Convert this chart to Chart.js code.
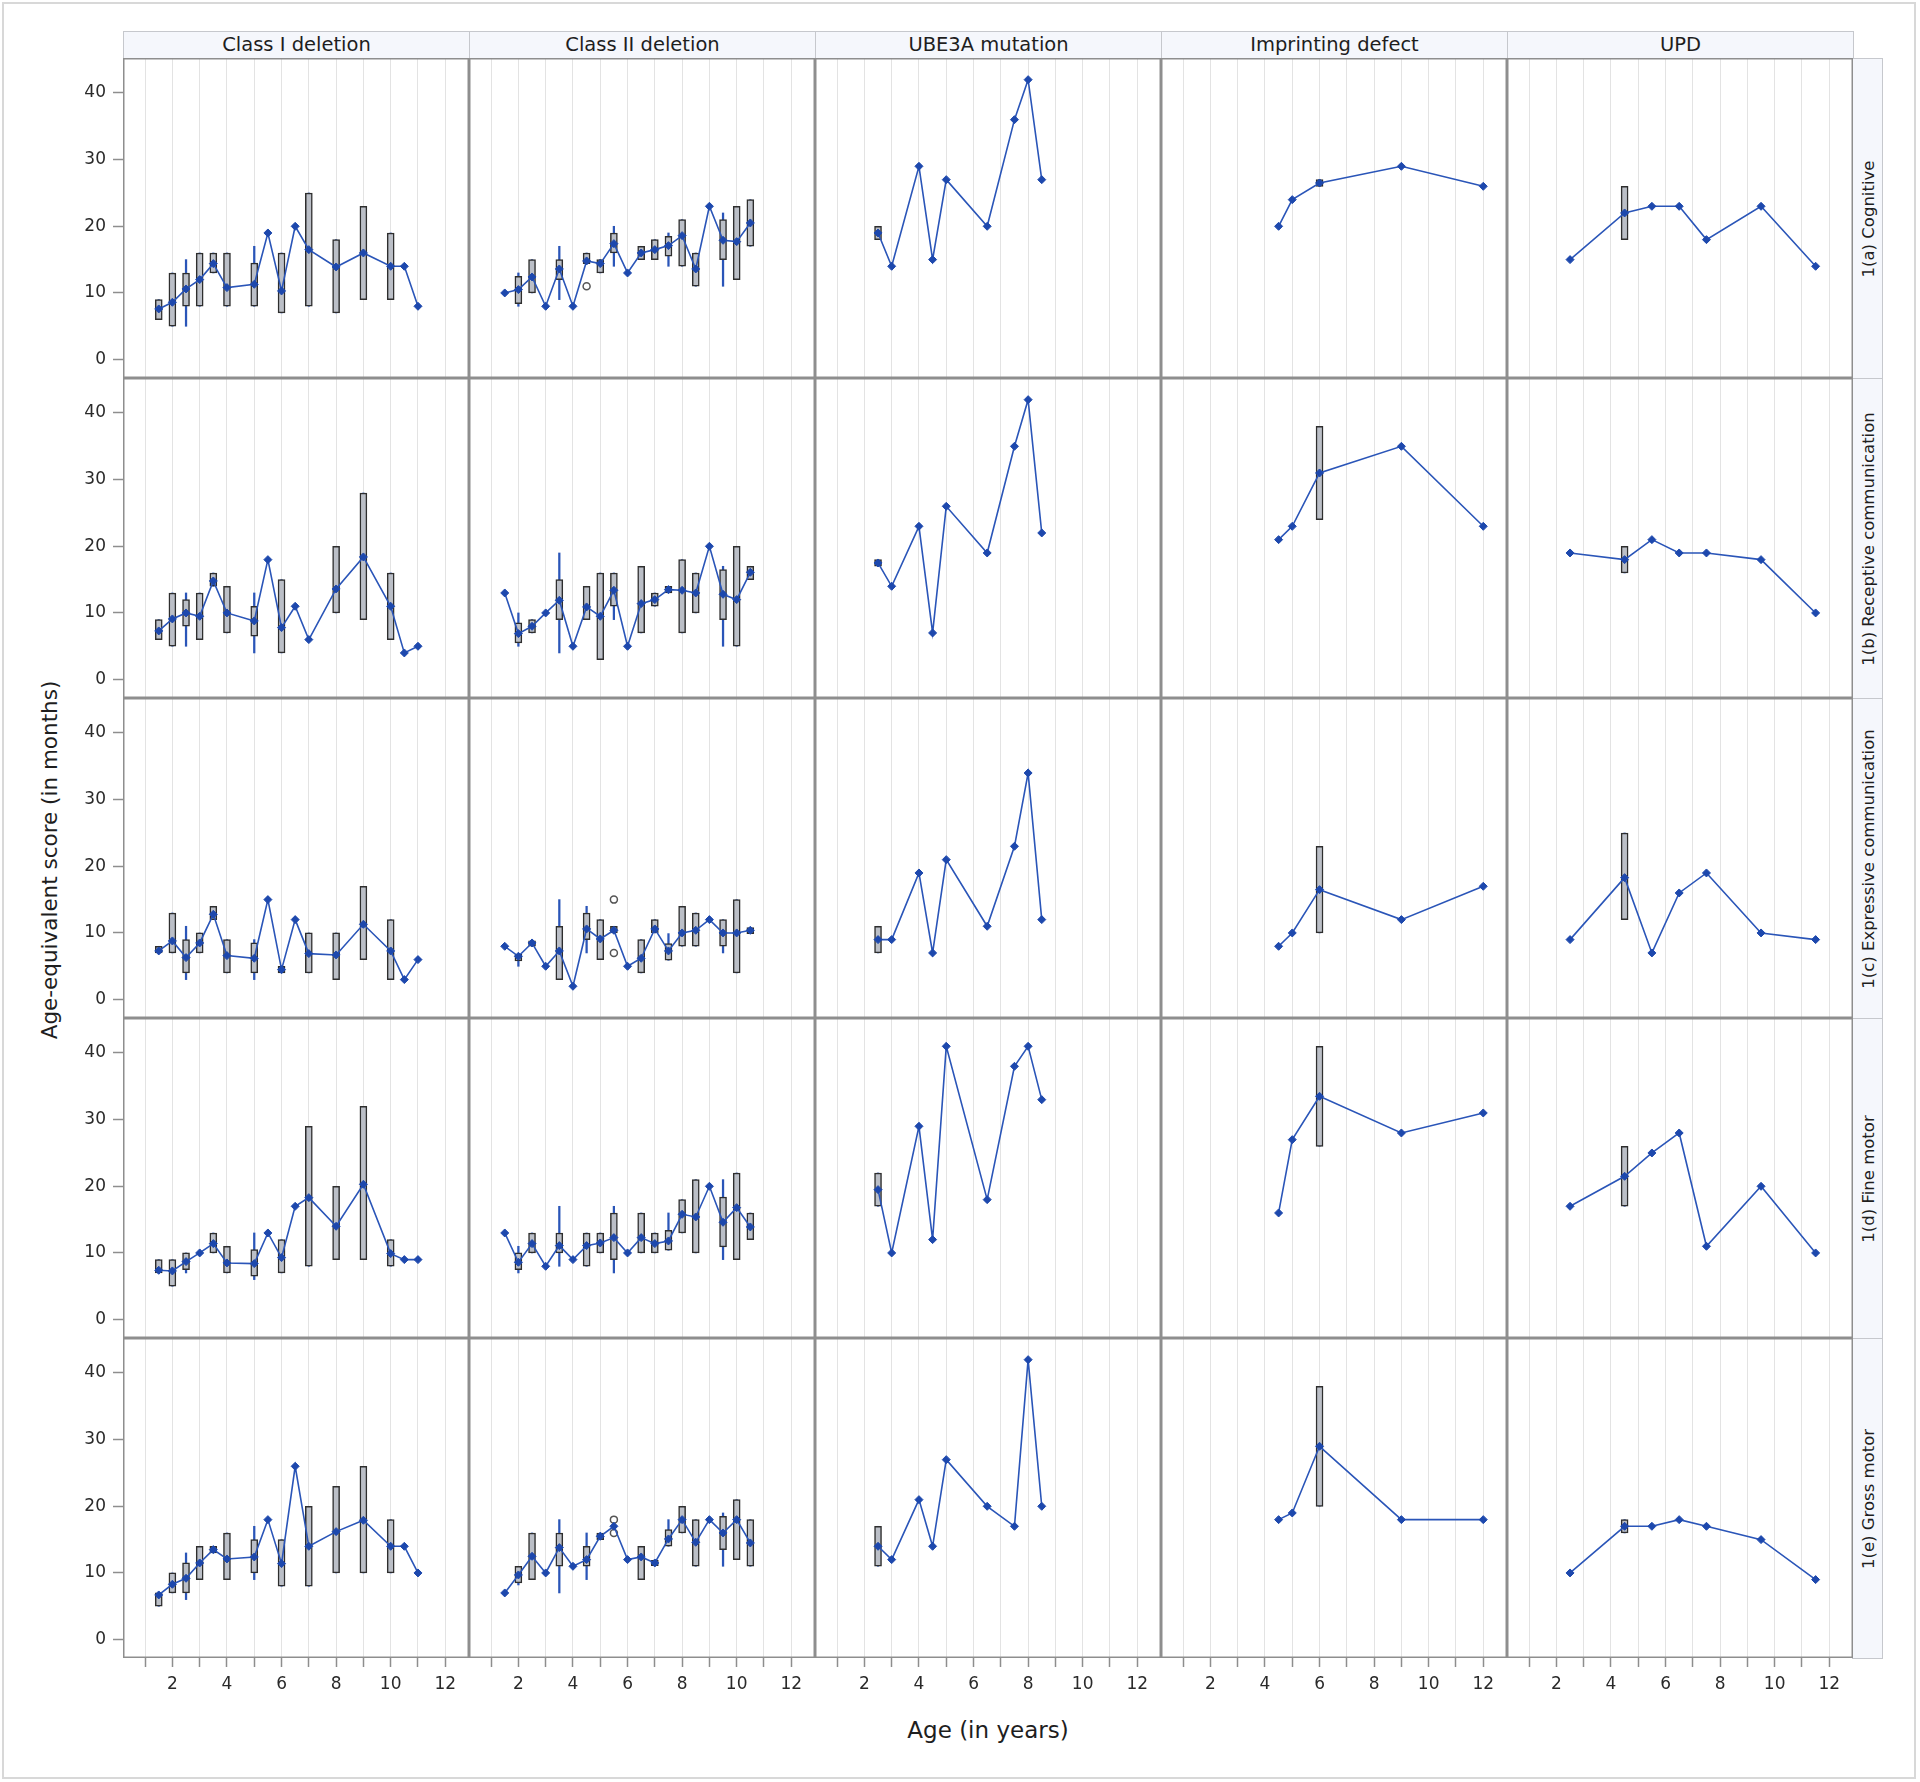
<!DOCTYPE html>
<html lang="en">
<head>
<meta charset="UTF-8">
<title>Age-equivalent scores by genetic subtype</title>
<script src="https://cdn.jsdelivr.net/npm/chart.js@4.4.1/dist/chart.umd.min.js"></script>
<style>
	body { margin: 0; background: #fff; font-family: 'DejaVu Sans', sans-serif; }
	#page { position: relative; width: 1920px; height: 1782px; overflow: hidden; }
	#frame { position: absolute; left: 2px; top: 2px; width: 1914px; height: 1777px; border: 2px solid #d8d8d8; box-sizing: border-box; }
	.panel { position: absolute; }
	.head { position: absolute; top: 31px; height: 28px; width: 347px; background: #f5f7fc; border: 1px solid #c6c8cd; box-sizing: border-box; text-align: center; font-size: 19.5px; line-height: 26px; color: #1e1e1e; }
	.side { position: absolute; left: 1852px; width: 31px; height: 321px; background: #f5f7fc; border: 1px solid #c6c8cd; box-sizing: border-box; }
	.side span { position: absolute; left: 50%; top: 50%; transform: translate(-50%, -50%) rotate(-90deg); white-space: nowrap; font-size: 16.5px; color: #1e1e1e; }
	#ytitle { position: absolute; left: 49px; top: 860px; transform: translate(-50%, -50%) rotate(-90deg); white-space: nowrap; font-size: 21.5px; color: #1e1e1e; }
	#xtitle { position: absolute; left: 988px; top: 1730px; transform: translate(-50%, -50%); white-space: nowrap; font-size: 23px; color: #1e1e1e; }
</style>
</head>
<body>
<div id="page">
	<div id="frame"></div>
	<div id="ytitle">Age-equivalent score (in months)</div>
	<div id="xtitle">Age (in years)</div>
</div>
<script>
// columns / rows of the panel grid
const groups = ['Class I deletion', 'Class II deletion', 'UBE3A mutation', 'Imprinting defect', 'UPD'];
const domains = ['1(a) Cognitive', '1(b) Receptive communication', '1(c) Expressive communication', '1(d) Fine motor', '1(e) Gross motor'];
const xTicks = [1, 2, 3, 4, 5, 6, 7, 8, 9, 10, 11, 12];
const yTicks = [0, 10, 20, 30, 40];

// age groups (years) per genetic subtype
const agesClassI = [1.5, 2, 2.5, 3, 3.5, 4, 5, 5.5, 6, 6.5, 7, 8, 9, 10, 10.5, 11];
const agesClassII = [1.5, 2, 2.5, 3, 3.5, 4, 4.5, 5, 5.5, 6, 6.5, 7, 7.5, 8, 8.5, 9, 9.5, 10, 10.5];
const agesUbe3a = [2.5, 3, 4, 4.5, 5, 6.5, 7.5, 8, 8.5];
const agesImprinting = [4.5, 5, 6, 9, 12];
const agesUpd = [2.5, 4.5, 5.5, 6.5, 7.5, 9.5, 11.5];

// mean scores, one list per subtype (same order as groups)
const cognitiveMean = [
	[7.6, 8.6, 10.6, 12, 14.4, 10.8, 11.3, 19, 10.3, 20, 16.5, 13.9, 16, 14, 14, 8],
	[10, 10.5, 12.4, 8, 13.6, 8, 14.8, 14.4, 17.4, 13, 16, 16.5, 17.1, 18.6, 13.6, 23, 17.9, 17.7, 20.5],
	[19, 14, 29, 15, 27, 20, 36, 42, 27],
	[20, 24, 26.5, 29, 26],
	[15, 22, 23, 23, 18, 23, 14]
];
const receptiveMean = [
	[7.3, 9.1, 10, 9.5, 14.8, 10, 8.8, 18, 7.8, 11, 6, 13.6, 18.4, 11, 4, 5],
	[13, 6.9, 8, 10, 11.9, 5, 10.9, 9.5, 13.4, 5, 11.4, 12, 13.5, 13.4, 13, 20, 12.8, 12, 16.1],
	[17.5, 14, 23, 7, 26, 19, 35, 42, 22],
	[21, 23, 31, 35, 23],
	[19, 18, 21, 19, 19, 18, 10]
];
const expressiveMean = [
	[7.3, 8.8, 6.3, 8.5, 12.8, 6.6, 6.2, 15, 4.5, 12, 6.9, 6.7, 11.3, 7.3, 3, 6],
	[8, 6.5, 8.5, 5, 7.3, 2, 10.6, 9.1, 10.4, 5, 6.2, 10.6, 7.3, 10, 10.4, 12, 10, 10, 10.4],
	[9, 9, 19, 7, 21, 11, 23, 34, 12],
	[8, 10, 16.5, 12, 17],
	[9, 18.3, 7, 16, 19, 10, 9]
];
const fineMotorMean = [
	[7.4, 7.3, 8.7, 10, 11.4, 8.5, 8.4, 13, 9.3, 17, 18.3, 14, 20.3, 9.9, 9, 9],
	[13, 8.6, 11.4, 8, 11.1, 9, 11.1, 11.5, 12.3, 10, 12.3, 11.4, 11.8, 15.8, 15.4, 20, 14.6, 16.8, 13.9],
	[19.5, 10, 29, 12, 41, 18, 38, 41, 33],
	[16, 27, 33.5, 28, 31],
	[17, 21.5, 25, 28, 11, 20, 10]
];
const grossMotorMean = [
	[6.7, 8.3, 9.2, 11.5, 13.5, 12.1, 12.4, 18, 11.4, 26, 14, 16.2, 17.9, 14, 14, 10],
	[7, 9.7, 12.5, 10, 13.8, 11, 12, 15.5, 17, 12, 12.4, 11.5, 15.1, 18, 14.6, 18, 16, 18, 14.5],
	[14, 12, 21, 14, 27, 20, 17, 42, 20],
	[18, 19, 29, 18, 18],
	[10, 17, 17, 18, 17, 15, 9]
];

// boxes: [age, q1, q3, whiskerLow, whiskerHigh]
const cognitiveBox = [
	[[1.5, 6, 9], [2, 5, 13], [2.5, 8, 13, 5, 15], [3, 8, 16], [3.5, 13, 16], [4, 8, 16], [5, 8, 14.5, 8, 17], [6, 7, 16], [7, 8, 25], [8, 7, 18], [9, 9, 23], [10, 9, 19]],
	[[2, 8.4, 12.5, 8, 13], [2.5, 10, 15], [3.5, 12, 15, 9, 17], [4.5, 14.4, 16], [5, 13, 15], [5.5, 16, 19, 14, 20], [6.5, 15, 17], [7, 15, 18], [7.5, 15.5, 18.5, 14, 19], [8, 14, 21], [8.5, 11, 16], [9.5, 15, 21, 11, 22], [10, 12, 23], [10.5, 17, 24]],
	[[2.5, 18, 20]],
	[[6, 26, 27]],
	[[4.5, 18, 26]]
];
const receptiveBox = [
	[[1.5, 6, 9], [2, 5, 13], [2.5, 8, 12, 5, 13], [3, 6, 13], [3.5, 14, 16], [4, 7, 14], [5, 6.5, 11, 4, 13], [6, 4, 15], [8, 10, 20], [9, 9, 28], [10, 6, 16]],
	[[2, 5.5, 8.5, 5, 10], [2.5, 7, 9], [3.5, 9, 15, 4, 19], [4.5, 9, 14], [5, 3, 16], [5.5, 11, 16, 9, 16], [6.5, 7, 17], [7, 11, 13], [7.5, 13, 14], [8, 7, 18], [8.5, 10, 16], [9.5, 9, 16.5, 5, 17], [10, 5, 20], [10.5, 15, 17]],
	[[2.5, 17, 18]],
	[[6, 24, 38]],
	[[4.5, 16, 20]]
];
const expressiveBox = [
	[[1.5, 7, 8], [2, 7, 13], [2.5, 4, 9, 3, 11], [3, 7, 10], [3.5, 12, 14], [4, 4, 9], [5, 4, 8.5, 3, 9], [6, 4, 5], [7, 4, 10], [8, 3, 10], [9, 6, 17], [10, 3, 12]],
	[[2, 5.8, 6.8, 5, 6.8], [2.5, 8, 8.8], [3.5, 3, 11, 3, 15], [4.5, 9, 13, 7, 14], [5, 6, 12], [5.5, 10, 11], [6.5, 4, 9], [7, 10, 12], [7.5, 5.9, 8.4, 5.9, 9.9], [8, 8, 14], [8.5, 8, 13], [9.5, 8, 12, 7, 12], [10, 4, 15], [10.5, 9.9, 10.8]],
	[[2.5, 7, 11]],
	[[6, 10, 23]],
	[[4.5, 12, 25]]
];
const fineMotorBox = [
	[[1.5, 7, 9], [2, 5, 9], [2.5, 7.5, 10, 7, 10], [3.5, 10, 13], [4, 7, 11], [5, 6.5, 10.5, 6, 13], [6, 7, 12], [7, 8, 29], [8, 9, 20], [9, 9, 32], [10, 8, 12]],
	[[2, 7.5, 10, 7, 11], [2.5, 10, 13], [3.5, 10, 13, 8, 17], [4.5, 8, 13], [5, 10, 13], [5.5, 9, 16, 7, 17], [6.5, 10, 16], [7, 10, 13], [7.5, 10.4, 13.4, 10.4, 16], [8, 13, 18], [8.5, 10, 21], [9.5, 10.9, 18.4, 9, 21], [10, 9, 22], [10.5, 12, 16]],
	[[2.5, 17, 22]],
	[[6, 26, 41]],
	[[4.5, 17, 26]]
];
const grossMotorBox = [
	[[1.5, 5, 7], [2, 7, 10], [2.5, 7, 11.5, 6, 13], [3, 9, 14], [3.5, 13, 14], [4, 9, 16], [5, 10, 15, 9, 17], [6, 8, 15], [7, 8, 20], [8, 10, 23], [9, 10, 26], [10, 10, 18]],
	[[2, 8.5, 11, 8.2, 11], [2.5, 9, 16], [3.5, 11, 16, 7, 18], [4.5, 11, 14, 9, 16], [5, 15, 16], [6.5, 9, 14], [7, 11.1, 11.9], [7.5, 14, 16.5, 14, 18], [8, 16, 20], [8.5, 11, 18], [9.5, 13.5, 18.5, 11, 19], [10, 12, 21], [10.5, 11, 18]],
	[[2.5, 11, 17]],
	[[6, 20, 38]],
	[[4.5, 16, 18]]
];

// outliers: [age, value]
const cognitiveOut = [[], [[4.5, 11]], [], [], []];
const receptiveOut = [[], [], [], [], []];
const expressiveOut = [[], [[5.5, 15], [5.5, 7]], [], [], []];
const fineMotorOut = [[], [], [], [], []];
const grossMotorOut = [[], [[5.5, 18], [5.5, 16]], [], [], []];

const ages = [agesClassI, agesClassII, agesUbe3a, agesImprinting, agesUpd];
const means = [cognitiveMean, receptiveMean, expressiveMean, fineMotorMean, grossMotorMean];
const boxes = [cognitiveBox, receptiveBox, expressiveBox, fineMotorBox, grossMotorBox];
const outs = [cognitiveOut, receptiveOut, expressiveOut, fineMotorOut, grossMotorOut];

// page layout
const LEFT = 123, TOP = 58, PW = 346, PH = 320, PAD_L = 70, PAD_B = 50;
const BLUE = '#2a55b8';
const FONT = 'DejaVu Sans';
const page = document.getElementById('page');

const panelFrame = {
	id: 'panelFrame',
	afterDatasetsDraw(chart) {
		const a = chart.chartArea, ctx = chart.ctx;
		ctx.save();
		ctx.strokeStyle = '#8e8e8e';
		ctx.lineWidth = 1.5;
		ctx.strokeRect(a.left + 0.75, a.top + 0.75, a.right - a.left - 1.5, a.bottom - a.top - 1.5);
		ctx.restore();
	}
};

function noPad(s) {
	s.paddingTop = 0; s.paddingBottom = 0; s.paddingLeft = 0; s.paddingRight = 0;
}

groups.forEach(function(g, c) {
	var h = document.createElement('div');
	h.className = 'head';
	h.style.left = (LEFT + PW * c) + 'px';
	h.textContent = g;
	page.appendChild(h);
});
domains.forEach(function(d, r) {
	var s = document.createElement('div');
	s.className = 'side';
	s.style.top = (TOP + PH * r) + 'px';
	s.innerHTML = '<span></span>';
	s.firstChild.textContent = d;
	page.appendChild(s);
});

for (let r = 0; r < 5; r++) {
	for (let c = 0; c < 5; c++) {
		const isLeft = c === 0, isBottom = r === 4;
		const w = PW + (isLeft ? PAD_L : 0), hgt = PH + (isBottom ? PAD_B : 0);
		const cv = document.createElement('canvas');
		cv.className = 'panel';
		cv.width = w; cv.height = hgt;
		cv.style.left = (LEFT + PW * c - (isLeft ? PAD_L : 0)) + 'px';
		cv.style.top = (TOP + PH * r) + 'px';
		cv.style.width = w + 'px'; cv.style.height = hgt + 'px';
		page.appendChild(cv);

		const lineData = ages[c].map((a, i) => ({ x: a, y: means[r][c][i] }));
		const boxData = boxes[r][c].map(b => ({ x: b[0], y: [b[1], b[2]] }));
		const whiskData = boxes[r][c].map(b => ({ x: b[0], y: [b.length > 3 ? b[3] : b[1], b.length > 3 ? b[4] : b[2]] }));
		const outData = outs[r][c].map(o => ({ x: o[0], y: o[1] }));

		new Chart(cv, {
			type: 'line',
			data: {
				datasets: [
					{ type: 'line', data: lineData, borderColor: BLUE, borderWidth: 1.6, pointStyle: 'rectRot', pointRadius: 4, pointBackgroundColor: '#1d48ad', pointBorderColor: '#1d48ad', pointBorderWidth: 1, tension: 0 },
					{ type: 'line', data: outData, showLine: false, pointStyle: 'circle', pointRadius: 3.5, pointBackgroundColor: '#fff', pointBorderColor: '#555', pointBorderWidth: 1.5 },
					{ type: 'bar', data: boxData, barThickness: 7, grouped: false, backgroundColor: '#bbbfc7', borderColor: '#2e2e2e', borderWidth: 1.5, borderSkipped: false },
					{ type: 'bar', data: whiskData, barThickness: 1.6, grouped: false, backgroundColor: BLUE, borderWidth: 0 }
				]
			},
			options: {
				responsive: false,
				animation: false,
				devicePixelRatio: 1,
				layout: { padding: 0, autoPadding: false },
				plugins: { legend: { display: false }, tooltip: { enabled: false } },
				scales: {
					x: {
						type: 'linear', min: 0.19, max: 12.87, offset: false,
						afterBuildTicks: s => { s.ticks = xTicks.map(v => ({ value: v })); },
						afterFit: s => { s.height = isBottom ? PAD_B : 0; noPad(s); },
						grid: { color: '#e3e3e3', lineWidth: 1, offset: false, drawTicks: isBottom, tickLength: 9, tickColor: '#8e8e8e', tickWidth: 1.5 },
						border: { display: false },
						ticks: {
							display: isBottom, autoSkip: false, maxRotation: 0, padding: 7,
							color: '#2a2a2a', font: { family: FONT, size: 17 },
							callback: v => (v % 2 === 0 ? String(v) : '')
						}
					},
					y: {
						type: 'linear', min: -2.76, max: 45.25, display: isLeft,
						afterBuildTicks: s => { s.ticks = yTicks.map(v => ({ value: v })); },
						afterFit: s => { s.width = isLeft ? PAD_L : 0; noPad(s); },
						grid: { drawOnChartArea: false, drawTicks: true, tickLength: 10, tickColor: '#8e8e8e', tickWidth: 1.5 },
						border: { display: false },
						ticks: { padding: 7, color: '#2a2a2a', font: { family: FONT, size: 17 } }
					}
				}
			},
			plugins: [panelFrame]
		});
	}
}
</script>
</body>
</html>
